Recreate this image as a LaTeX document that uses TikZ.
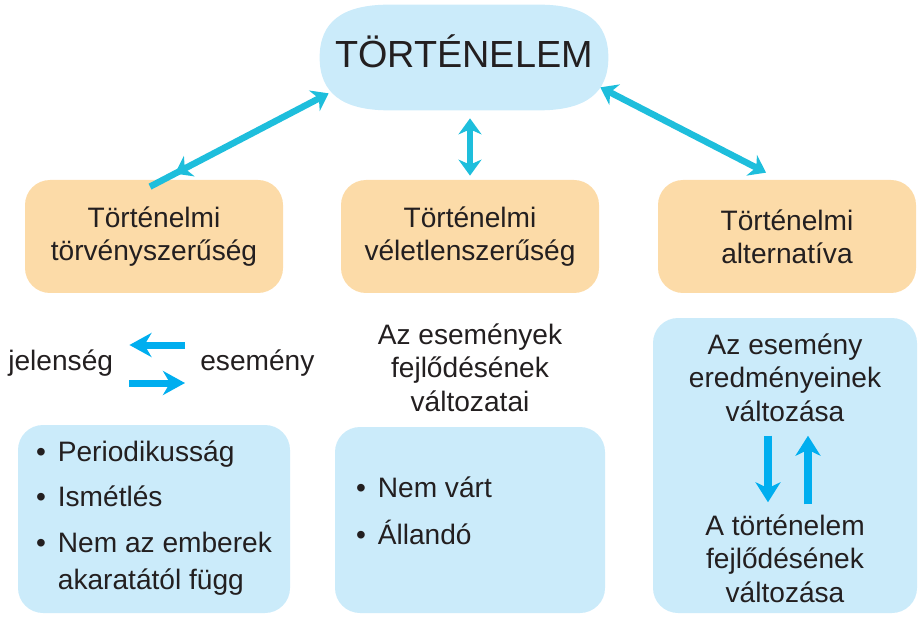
\documentclass[tikz,border=0pt]{standalone}
\usepackage{fontspec}
\setmainfont{Liberation Sans}
\usetikzlibrary{arrows.meta, positioning, calc, backgrounds, decorations.markings}
\definecolor{paleblue}{RGB}{203, 235, 250}
\definecolor{peach}{RGB}{252, 219, 168}
\definecolor{linkteal}{RGB}{30, 190, 220}
\definecolor{arrowblue}{RGB}{0, 174, 239}
\definecolor{inkdark}{RGB}{35, 31, 32}

\tikzset{
    linktip/.tip={Stealth[length=0.32cm, width=0.46cm, inset=0.1cm]},
    swaptip/.tip={Stealth[length=0.44cm, width=0.48cm, inset=0.14cm]},
    bodytext/.style={inner sep=0pt, align=center, text=inkdark, font=\fontsize{16}{19}\selectfont},
    topicbox/.style={bodytext, fill=peach, rounded corners=0.5cm, minimum width=5.16cm, minimum height=2.26cm},
    infobox/.style={bodytext, fill=paleblue, rounded corners=0.5cm},
    link/.style={color=linkteal, line width=0.13cm, linktip-linktip},
    swaparrow/.style={color=arrowblue, line width=0.14cm, -swaptip},
}

\begin{document}
\begin{tikzpicture}
    \useasboundingbox (0, 0) rectangle (18.36, 12.32);

    % Main topic
    \node[minimum width=5.76cm, minimum height=2.1cm, inner sep=0pt,
          text=inkdark, font=\fontsize{21.5}{26}\selectfont, text height=0.7cm, text depth=0.28cm] (blob) at (9.28, 11.17) {TÖRTÉNELEM};
    \begin{scope}[on background layer]
        \fill[paleblue] (blob.west) .. controls +(0, 0.7) and +(-0.95, 0) .. ([xshift=-1.5cm]blob.north)
            -- ([xshift=1.5cm]blob.north) .. controls +(0.95, 0) and +(0, 0.7) .. (blob.east)
            .. controls +(0, -0.7) and +(0.95, 0) .. ([xshift=1.5cm]blob.south)
            -- ([xshift=-1.5cm]blob.south) .. controls +(-0.95, 0) and +(0, -0.7) .. (blob.west) -- cycle;
    \end{scope}

    % Three topic boxes
    \node[topicbox] (b1) at (3.08, 7.59) {Történelmi\\törvényszerűség};
    \node[topicbox] (b2) at (9.4, 7.59) {Történelmi\\véletlenszerűség};
    \node[topicbox] (b3) at (15.74, 7.59) {Történelmi\\alternatíva};

    % Links to the main topic
    \draw[link, -linktip, postaction={decorate},
          decoration={markings, mark=at position 0.14 with {\arrowreversed{linktip}}}]
        ([xshift=-0.08cm, yshift=-0.14cm]b1.north) -- ([xshift=0.18cm, yshift=0.34cm]blob.south west);
    \draw[link, shorten <=0.16cm, shorten >=0.08cm] (b2.north |- blob.south) -- (b2.north);
    \draw[link] ([xshift=-0.16cm, yshift=0.46cm]blob.south east) -- ([xshift=-0.42cm, yshift=0.14cm]b3.north);

    % Left column
    \node[bodytext, anchor=base west] (jel) at (0.16, 4.92) {jelenség};
    \node[bodytext, anchor=base west] (esem) at (4.0, 4.92) {esemény};
    \draw[swaparrow, shorten <=0.3cm, shorten >=0.32cm] ([yshift=0.5cm]esem.base west) -- ([yshift=0.5cm]jel.base east);
    \draw[swaparrow, shorten <=0.32cm, shorten >=0.3cm] ([yshift=-0.26cm]jel.base east) -- ([yshift=-0.26cm]esem.base west);

    \node[infobox, minimum width=5.44cm, minimum height=3.76cm] (l1) at (3.08, 1.94) {%
        \begin{tabular}{@{}l@{\hspace{0.24cm}}l@{}}
            \textbullet & Periodikusság\\[0.24cm]
            \textbullet & Ismétlés\\[0.24cm]
            \textbullet & Nem az emberek\\[0.08cm]
                        & akaratától függ
        \end{tabular}};

    % Middle column
    \node[bodytext] (m1) at (9.4, 4.97) {Az események\\fejlődésének\\változatai};
    \node[infobox, minimum width=5.4cm, minimum height=3.72cm] (l2) at (9.4, 1.92) {};
    \node[bodytext, anchor=base west] (l2list) at ([xshift=0.42cm, yshift=-1.42cm]l2.north west) {%
        \begin{tabular}[t]{@{}l@{\hspace{0.24cm}}l@{}}
            \textbullet & Nem várt\\[0.24cm]
            \textbullet & Állandó
        \end{tabular}};

    % Right column
    \node[infobox, minimum width=5.28cm, minimum height=5.9cm] (l3) at (15.7, 3.01) {};
    \node[bodytext] (r1) at (15.7, 4.77) {Az esemény\\eredményeinek\\változása};
    \node[bodytext] (r2) at (15.7, 1.15) {A történelem\\fejlődésének\\változása};
    \draw[swaparrow, line width=0.15cm, -{Stealth[length=0.4cm, width=0.5cm, inset=0.12cm]}, shorten <=0.28cm, shorten >=0.24cm]
        ([xshift=-0.34cm]r1.south) -- ([xshift=-0.34cm]r2.north);
    \draw[swaparrow, line width=0.15cm, -{Stealth[length=0.4cm, width=0.5cm, inset=0.12cm]}, shorten <=0.2cm, shorten >=0.28cm]
        ([xshift=0.46cm]r2.north) -- ([xshift=0.46cm]r1.south);
\end{tikzpicture}
\end{document}
